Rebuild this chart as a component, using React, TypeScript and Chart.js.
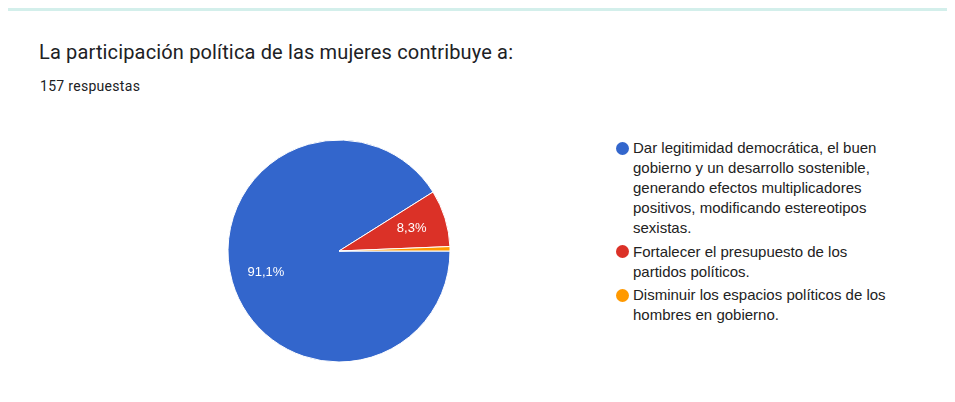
import React, { useEffect, useRef } from "react";
import { Chart, registerables } from "chart.js";

Chart.register(...registerables);

const TITLE = "La participación política de las mujeres contribuye a:";
const SUBTITLE = "157 respuestas";
const CATEGORIES = [
  "Dar legitimidad democrática, el buen gobierno y un desarrollo sostenible, generando efectos multiplicadores positivos, modificando estereotipos sexistas.",
  "Fortalecer el presupuesto de los partidos políticos.",
  "Disminuir los espacios políticos de los hombres en gobierno.",
];
const COUNTS = [143, 13, 1];
const COLORS = ["#3366cc", "#db3127", "#ff9900"];

const pctLabels = {
  id: "pctLabels",
  afterDatasetsDraw(chart: any) {
    const ctx = chart.ctx;
    const meta = chart.getDatasetMeta(0);
    const data = chart.data.datasets[0].data as number[];
    const total = data.reduce((a, b) => a + b, 0);
    ctx.save();
    ctx.fillStyle = "#ffffff";
    ctx.font = "13px 'Liberation Sans', Arial, sans-serif";
    ctx.textAlign = "center";
    ctx.textBaseline = "middle";
    meta.data.forEach((arc: any, i: number) => {
      const pct = (data[i] / total) * 100;
      if (pct < 5) return;
      const p = arc.getProps(["x", "y", "startAngle", "endAngle", "outerRadius"], true);
      const mid = (p.startAngle + p.endAngle) / 2;
      const r = p.outerRadius * 0.685;
      const text = pct.toFixed(1).replace(".", ",") + "%";
      ctx.fillText(text, p.x + Math.cos(mid) * r, p.y + Math.sin(mid) * r);
    });
    ctx.restore();
  },
};

export default function App() {
  const ref = useRef<HTMLCanvasElement>(null);

  useEffect(() => {
    if (!ref.current) return;
    const chart = new Chart(ref.current, {
      type: "pie",
      data: {
        labels: CATEGORIES,
        datasets: [
          {
            data: COUNTS,
            backgroundColor: COLORS,
            borderColor: "#ffffff",
            borderWidth: 1,
          },
        ],
      },
      options: {
        responsive: false,
        animation: false,
        rotation: 90,
        radius: 111,
        layout: { padding: 0 },
        plugins: {
          legend: { display: false },
          tooltip: { enabled: false },
        },
      } as any,
      plugins: [pctLabels],
    });
    return () => chart.destroy();
  }, []);

  return (
    <div style={{ position: "relative", width: 939, height: 386, overflow: "hidden", background: "#fff" }}>
      <div
        style={{
          position: "absolute",
          left: -1,
          top: -1,
          width: 942,
          height: 388,
          boxSizing: "border-box",
          borderTop: "4px solid #d3efeb",
          borderLeft: "1px solid #ececec",
          borderBottom: "1px solid #f0f0f0",
          background: "#fff",
        }}
      />
      <div
        style={{
          position: "absolute",
          left: 31,
          top: 34,
          fontFamily: "Roboto, sans-serif",
          fontSize: 20,
          lineHeight: "20px",
          letterSpacing: 0.15,
          color: "#202124",
          whiteSpace: "nowrap",
        }}
      >
        {TITLE}
      </div>
      <div
        style={{
          position: "absolute",
          left: 32,
          top: 71,
          fontFamily: "Roboto, sans-serif",
          fontSize: 14,
          lineHeight: "14px",
          letterSpacing: 0.3,
          color: "#202124",
          whiteSpace: "nowrap",
        }}
      >
        {SUBTITLE}
      </div>
      <canvas
        ref={ref}
        width={240}
        height={240}
        style={{ position: "absolute", left: 211, top: 123, width: 240, height: 240, display: "block" }}
      />
      <div style={{ position: "absolute", left: 608, top: 130 }}>
        {CATEGORIES.map((c, i) => (
          <div key={i} style={{ display: "flex", alignItems: "flex-start", marginBottom: 3.5 }}>
            <div
              style={{
                width: 13,
                height: 13,
                borderRadius: "50%",
                background: COLORS[i],
                marginTop: 3.5,
                marginRight: 4,
                flex: "none",
              }}
            />
            <div
              style={{
                width: 264,
                fontFamily: "'Liberation Sans', Arial, sans-serif",
                fontSize: 15,
                lineHeight: "20px",
                color: "#222222",
              }}
            >
              {c}
            </div>
          </div>
        ))}
      </div>
    </div>
  );
}
